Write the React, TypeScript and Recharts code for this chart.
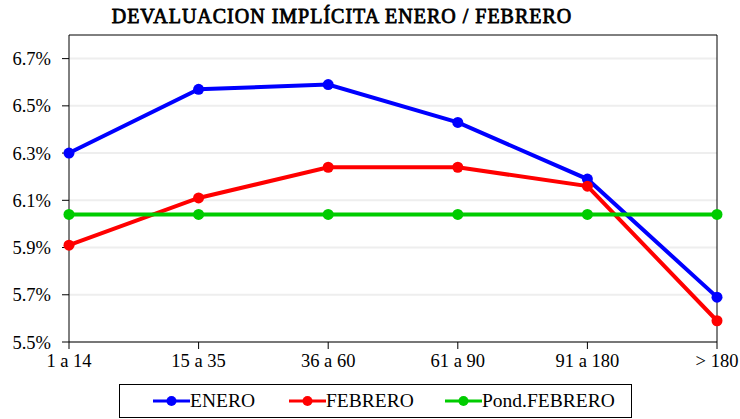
import React from 'react'
import { LineChart, Line, XAxis, YAxis, CartesianGrid, ReferenceLine, Legend } from 'recharts'

const categories = ['1 a 14', '15 a 35', '36 a 60', '61 a 90', '91 a 180', '> 180']
const enero = [6.30, 6.57, 6.59, 6.43, 6.19, 5.69]
const febrero = [5.91, 6.11, 6.24, 6.24, 6.16, 5.59]
const pondFebrero = [6.04, 6.04, 6.04, 6.04, 6.04, 6.04]
const yTicks = [5.5, 5.7, 5.9, 6.1, 6.3, 6.5, 6.7]

const seriesInfo = [
  { key: 'ENERO', color: '#0000ff' },
  { key: 'FEBRERO', color: '#ff0000' },
  { key: 'Pond.FEBRERO', color: '#00cc00' },
]
// horizontal offsets of the legend entries inside the box
const legendOffsets = [33, 169, 325]

const data = categories.map((c, i) => ({
  name: c,
  ENERO: enero[i],
  FEBRERO: febrero[i],
  'Pond.FEBRERO': pondFebrero[i],
}))

const FONT = '"Liberation Serif"'

const renderLegend = () => (
  <div
    style={{
      position: 'relative',
      border: '1px solid #000',
      height: 34,
      boxSizing: 'border-box',
      fontFamily: FONT,
      fontSize: 19.5,
      color: '#000',
    }}
  >
    {seriesInfo.map((s, i) => (
      <div
        key={s.key}
        style={{ position: 'absolute', left: legendOffsets[i], top: 0, height: 32, display: 'flex', alignItems: 'center' }}
      >
        <svg width={37} height={14}>
          <line x1={0} y1={7} x2={37} y2={7} stroke={s.color} strokeWidth={3} />
          <circle cx={18.5} cy={7} r={5} fill={s.color} />
        </svg>
        <span style={{ whiteSpace: 'nowrap' }}>{s.key}</span>
      </div>
    ))}
  </div>
)

export default function App() {
  return (
    <div style={{ position: 'absolute', left: 0, top: 0, width: 740, height: 419, background: '#fff' }}>
      <div
        style={{
          position: 'absolute',
          left: 0,
          top: 5,
          width: 684,
          textAlign: 'center',
          fontFamily: FONT,
          fontSize: 20,
          WebkitTextStroke: '0.8px #000',
          letterSpacing: 1,
          color: '#000',
          whiteSpace: 'nowrap',
        }}
      >
        DEVALUACION IMPLÍCITA ENERO / FEBRERO
      </div>
      <LineChart width={740} height={419} data={data} margin={{ top: 35, right: 23, left: 0, bottom: 0 }}>
        <CartesianGrid vertical={false} stroke="#eeeeee" strokeWidth={2} horizontalValues={yTicks} />
        <XAxis
          dataKey="name"
          height={43}
          stroke="#000"
          tickSize={7}
          tickMargin={5}
          tick={{ fill: '#000', fontFamily: FONT, fontSize: 18.5 }}
          interval={0}
        />
        <YAxis
          width={69}
          domain={[5.5, 6.8]}
          ticks={yTicks}
          stroke="#000"
          tickSize={7}
          tickMargin={11}
          tickFormatter={(v: number) => v.toFixed(1) + '%'}
          tick={{ fill: '#000', fontFamily: FONT, fontSize: 18.5 }}
          allowDataOverflow
        />
        <ReferenceLine y={6.8} stroke="#000" strokeWidth={1} />
        <ReferenceLine x="> 180" stroke="#000" strokeWidth={1} />
        <Legend
          content={renderLegend}
          wrapperStyle={{ position: 'absolute', left: 119, top: 384, width: 513, height: 34 }}
        />
        {seriesInfo.map((s) => (
          <Line
            key={s.key}
            type="linear"
            dataKey={s.key}
            stroke={s.color}
            strokeWidth={4}
            dot={{ r: 5.5, fill: s.color, stroke: s.color, strokeWidth: 0 }}
            isAnimationActive={false}
          />
        ))}
      </LineChart>
    </div>
  )
}
